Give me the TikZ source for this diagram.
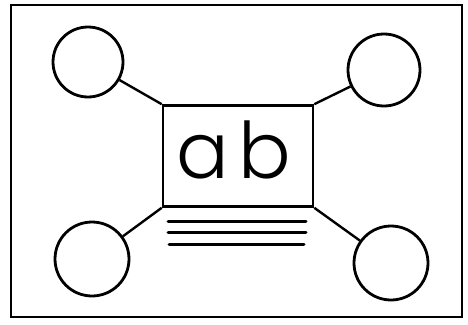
\documentclass[tikz,border=0pt]{standalone}
\usepackage{fontspec}
\newfontfamily\pop{Poppins Light}
\tikzset{
  ball/.style={circle,draw,line width=2.8pt,inner sep=0pt,minimum size=#1},
  link/.style={line width=2.4pt},
  frame/.style={line width=2.4pt},
  bar/.style={line width=3pt,line cap=round}
}
\begin{document}
\begin{tikzpicture}[x=1pt,y=-1pt]
\useasboundingbox (0,0) rectangle (468,324);
\draw[frame] (11,5) rectangle (462,317);
\node[draw,line width=2.6pt,minimum width=150pt,minimum height=101pt,inner sep=0pt] (sq) at (238,156) {};
\node[font=\pop\fontsize{78}{78}\selectfont,inner sep=0pt,anchor=base] (txt) at (234,178) {a\kern 9pt b};
\node[ball=70pt] (c1) at (88,62) {};
\node[ball=72pt] (c2) at (384,70) {};
\node[ball=74pt] (c3) at (92,259) {};
\node[ball=74pt] (c4) at (391,263) {};
\draw[link] (sq.north west) -- (c1);
\draw[link] (sq.north east) -- (c2);
\draw[link] (sq.south west) -- (c3);
\draw[link] (sq.south east) -- (c4);
\draw[bar] (168,221) -- (306,221);
\draw[bar] (168,232.5) -- (306,232.5);
\draw[bar] (169,244) -- (304,244);
\end{tikzpicture}
\end{document}
